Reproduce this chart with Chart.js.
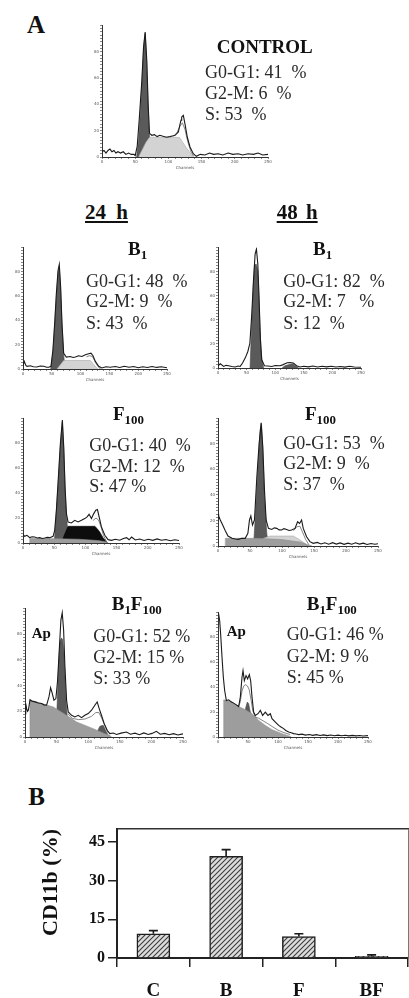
<!DOCTYPE html>
<html><head><meta charset="utf-8">
<script src="https://cdn.jsdelivr.net/npm/chart.js@4.4.0/dist/chart.umd.min.js"></script>
<style>
html,body{margin:0;padding:0;background:#fff;width:409px;height:998px;overflow:hidden;position:relative}
.t{position:absolute;font-family:"Liberation Serif","Times New Roman",serif;white-space:pre;line-height:1;color:#2a2a2a}
.b{font-weight:bold;color:#111}
.t sub{font-size:0.68em;vertical-align:-4px;line-height:0}
canvas{position:absolute}
</style></head><body>
<script>
// ---------- DATA (channel, count) ----------
const ctrlRaw=[[0,4],[3,5],[6,3],[9,5],[12,6],[15,4],[18,5],[21,3],[24,4],[28,3],[32,4],[36,2],[40,3],[44,2],[48,2],[50,1],[53,8],[56,28],[60,58],[62.5,83],[65,95],[67.5,73],[69.5,40],[71.5,18],[75,16.5],[79,17],[83,15.5],[87,16.5],[92,15.7],[97,15],[102,15.5],[106,16],[110,16.5],[113,18],[115,19],[117.5,25],[119,28],[120,30.4],[122.5,31.6],[125,25],[128.5,15],[132.5,7.6],[137.5,2.5],[142,0.5],[148,2],[155,1.5],[162,3],[168,2],[175,2.5],[182,1.5],[190,3],[197,2],[205,2.5],[212,1.5],[220,2.5],[228,2],[235,3],[242,1.5],[250,2]];
const ctrlFit=[[108,16],[113,18.5],[117,23],[121,26],[125,21],[129,12],[134,4],[138,0.5]];
const ctrlS=[[55,0],[60,5],[66,11],[71.5,15],[80,15],[95,15],[110,15],[117,14.7],[127,7],[137.5,0]];
const ctrlG1=[[52,0],[55,12],[58,35],[61,65],[63,85],[65,94],[67,75],[69,45],[71,20],[73,5],[75,0]];

const b24Raw=[[0,2.7],[2.3,6.3],[5,3],[7,2.2],[12.7,2.7],[18,1.8],[24,1.6],[30,2.5],[36,2.2],[41,1.5],[44.6,1.4],[48.6,2.2],[52,15.8],[55,37.5],[57.9,62],[60.8,81],[63,86],[65.4,67],[67.7,37.5],[70.6,13],[75.2,9.8],[82,10.3],[87,9.5],[90.9,9.8],[96.6,10.9],[102.4,10.3],[108.2,11.7],[114,12.5],[118,13],[121.5,10.9],[125.6,6.3],[131.4,2.2],[137,0.8],[144,1.8],[151.6,1.4],[160,2],[168,1.2],[176,2.2],[184,1.4],[192,2],[200,1],[208,1.8],[216,1.2],[224,2],[232,1.3],[240,1.8],[250,1]];
const b24Fit=[[110,10],[116,11],[121,10],[126,5],[132,1],[135,0]];
const b24S=[[59,0],[64,3],[70.6,7],[90,7],[116.9,7],[123,3.5],[129.6,0]];
const b24G1=[[48,0],[52,14],[55,36],[58,60],[61,79],[63,84],[65.4,64],[67.7,36],[70.6,12],[73,0]];

const b48Raw=[[0,1.9],[4,3.5],[9.9,1.3],[14,2.2],[18.6,1.9],[24,1.2],[30,0.8],[35,1.6],[38.8,1.3],[42.9,4.1],[47.5,8.2],[52.2,13.7],[55.7,20.5],[59.1,45],[62,72.6],[64.9,94.5],[67.2,98.6],[69.6,86.3],[71.9,56],[74.2,23.3],[76.5,6.8],[81.2,1.9],[87,1.6],[93.9,1.3],[100,2],[108.4,1.9],[113,2.6],[117.1,3.5],[121,4.3],[125.8,4.6],[131.6,4.1],[137.4,1.9],[143.2,0.8],[150,1.5],[158,0.9],[166,1.6],[174,0.8],[182,1.4],[190,0.9],[198,1.5],[206,0.8],[214,1.3],[222,0.7],[230,1.4],[238,0.8],[250,0.6]];
const b48G1=[[56,0],[59.1,39],[61.5,66],[63.8,85],[66.7,86.3],[69.6,80.8],[71.5,60],[73,37],[75,17],[76.5,6.8],[80,0]];
const b48G2=[[112,0],[117,1.8],[123,2.7],[130,3.5],[137,1.3],[141,0]];

const f24Raw=[[0,7],[2.7,5.4],[6.4,6.2],[10.7,4.3],[14.7,5],[18.7,4.8],[22.7,4],[26.8,4.3],[30.8,3.6],[34.8,4],[38.8,4.5],[42.8,4.3],[48.2,5.4],[50.8,10.2],[53.5,26.3],[56.7,53],[59.9,79.8],[63.1,98.6],[65.3,77],[67.4,45],[69.6,23.6],[72.2,16.9],[77.6,16.1],[82.9,18.2],[88.3,16.9],[93.6,18.2],[99,19.6],[102.7,20.9],[105.9,23],[109.7,19.6],[113.4,23.6],[116.6,26.3],[119.3,26.8],[122,20.9],[125.7,12.9],[131.1,6.2],[136.4,2.7],[141.8,2.1],[148,3],[155,2.2],[161,3.6],[166,4.3],[170,2.6],[174,4.8],[180,2.4],[187,3.2],[194,2],[201,3],[208,2.1],[215,3.3],[222,2.2],[229,2.8],[236,1.8],[243,2.6],[250,2]];
const f24Fit=[[112,18],[117,20],[121,18.5],[125,13],[129,6],[134,1]];
const f24Debris=[[10.7,0],[10.7,3.6],[50,3.5],[90,3],[120,2],[132,1],[137,0]];
const f24S=[[61.5,0],[66,6],[72.2,13.4],[90,13.4],[115,13.4],[119,11.5],[123,8.8],[128,4.5],[133.8,0.8],[136,0]];
const f24G1=[[50,0],[53,22],[56.7,50],[59.9,78],[63,97],[65.3,75],[67.4,44],[69.6,22],[72,8],[75,0]];

const f48Raw=[[0,25],[1,23.5],[3.6,20.4],[7.3,16.4],[11.4,12],[15.6,7.8],[21.8,6],[27,5.5],[32,5.2],[37,6],[42.5,6],[46.7,9.9],[49.2,20.4],[51.3,23.5],[53.9,16.4],[57,20.4],[60.7,54.3],[64.3,80.4],[67.4,96.6],[70,77.8],[72.6,43.9],[75.2,20.4],[78.8,13.8],[84,13],[88,14.2],[91.8,13.8],[95.5,12.6],[99.5,12.5],[103,13.6],[107.3,13],[111,12.2],[115,12.5],[120.3,13.8],[124.4,19],[127.5,17.7],[130.6,20.4],[133.2,13.8],[138.4,7.3],[143.6,3.4],[148.8,2.1],[155,2.8],[161,1.6],[167,2.5],[173,1.4],[179,2.6],[185,1.5],[191,2.4],[197,1.3],[203,2.2],[209,1.4],[215,2.5],[221,1.5],[227,2.2],[233,1.2],[239,2],[245,1.4],[250,1.8]];
const f48Fit=[[118,12],[123,15],[128,15.5],[132,11],[137,5],[142,1]];
const f48Debris=[[11.4,0],[11.4,6],[60,6],[100,5],[130,3],[140,1],[147,0]];
const f48S=[[68.4,0],[71,6],[81.4,7.8],[100,7.8],[117.7,7.8],[127,5],[135.8,2.1],[141,0]];
const f48G1=[[55.5,0],[58,20.4],[62.2,59.5],[65.8,90.8],[67.9,96],[70,75],[72.6,38.6],[76.2,10],[78.8,0]];

const bf24Raw=[[0,18.2],[1.2,26],[2.6,22],[4,20],[5.3,20.8],[7.9,29],[11,27.8],[15.8,27.3],[21,26.5],[26.3,26],[30,25],[34.2,24.7],[37.9,31.2],[40.5,38.4],[43.2,33.7],[45.8,28.6],[48.9,29.9],[51.6,44.1],[54.2,67.5],[56.8,90.9],[58.9,96.6],[61.1,83.1],[63.2,54.5],[65.8,28.6],[68.4,19.5],[73.7,16.9],[78.9,15.6],[84.2,16.9],[89.5,15.1],[94.7,16.9],[100,18.2],[105.3,20.8],[110.5,24.7],[114.2,27.3],[117.4,22.1],[121,16.9],[125.3,10.4],[130,5.2],[134.2,2.6],[139.5,3.1],[145,2],[152,3],[160.5,3.9],[167,2.2],[174,3],[181,1.8],[188,3.2],[195,2],[201,2.8],[207.9,4.4],[214,2.2],[221,2.8],[228,1.8],[235,2.6],[242,1.6],[250,2.4]];
const bf24Fit=[[68,18],[75,14.5],[85,13.5],[95,14],[105,16],[112,19],[117,19],[122,14],[127,8],[132,3]];
const bf24Debris=[[7.9,0],[7.9,29],[26,26],[44.7,23.4],[65.8,16.9],[81.6,11.7],[107.9,6.5],[126.3,2.6],[134.2,1.3],[136.8,0]];
const bf24G2=[[110,0],[114.2,3.9],[118.4,8.3],[123.7,9.1],[128.9,3.9],[131.6,1.3],[133,0]];
const bf24G1=[[49,0],[51.6,35],[53.5,60],[55.5,74],[57.5,77],[59.5,76],[61.5,66],[63.2,48],[65,28],[67,15],[69,0]];

const bf48Raw=[[0.5,99],[1.1,98.7],[2.8,93.3],[4.4,82.7],[6.7,64],[8.9,48],[11.1,37.3],[13.9,29.3],[17.8,29.9],[22,28.2],[26.1,27.2],[30,26],[34.4,24.5],[37.2,32],[40,48],[41.7,53.3],[43.9,45.3],[46.7,49.3],[49.4,46.7],[52.2,50.1],[54.4,45.3],[56.7,32],[59.4,20],[62.2,17.3],[66.7,18.7],[70.6,21.3],[74.4,17.3],[78.9,20],[83.3,17.3],[87.2,18.7],[90,14.7],[95.6,12],[101.1,9.3],[105,8],[109.4,6.7],[113,5.2],[117.8,4],[122,3.4],[126.1,2.7],[130,2.4],[134.4,1.9],[140,2.3],[146,1.5],[152,2],[158,1.3],[164,1.9],[170,1.2],[176,1.7],[182,1.1],[188,1.6],[194,1],[200,1.5],[206,1],[212,1.4],[218,0.9],[224,1.3],[230,0.9],[236,1.2],[242,0.8],[250,1.1]];
const bf48Fit=[[34.4,24.5],[37,28],[40,37],[43,41],[46,42],[49,41],[52,38],[55,30],[58,21],[62,16],[68,15],[75,13],[82,11],[90,8.5],[100,5.5],[110,3.5],[120,2]];
const bf48Debris=[[9.4,0],[9.4,29.9],[23.3,28],[34.4,24.5],[45.6,21.9],[56.7,18.7],[67.8,13.3],[78.9,9.3],[90,5.9],[106.7,2.7],[120.6,0.5],[122,0]];
const bf48G1=[[43.5,0],[44.4,18.7],[46.7,24.5],[48.9,28],[51.1,26.7],[53.3,21.3],[55.6,17.3],[56,0]];

const histXTicks=[0,50,100,150,200,250];
const histYLabels=[0,20,40,60,80];

const barLabels=['C','B','F','BF'];
const barValues=[9.4,39.4,8.3,0.6];
const barErrors=[1.2,2.6,1.1,0.6];
const barTicks=[0,15,30,45];

// ---------- LAYOUT / STYLE ----------
Chart.defaults.font.family='"DejaVu Sans", sans-serif';
const SERIF='"Liberation Serif","Times New Roman",serif';
const geo={
 ctrl:{x0:101.7,x1:268,top:25,axis:156.7},
 b24:{x0:22.7,x1:166.7,top:246.7,axis:369.3},
 b48:{x0:217.7,x1:361,top:246.7,axis:368.3},
 f24:{x0:23.3,x1:179,top:418.3,axis:542.7},
 f48:{x0:217.7,x1:378.3,top:418.3,axis:546},
 bf24:{x0:25,x1:183.3,top:608.3,axis:736.7},
 bf48:{x0:217.7,x1:368.3,top:611.7,axis:736.7}
};
const sty={
 raw:{borderColor:'#1a1a1a',borderWidth:1.1,fill:false},
 fit:{borderColor:'#666',borderWidth:0.8,fill:false},
 debris:{borderColor:'#8e8e8e',borderWidth:0.6,backgroundColor:'#9d9d9d',fill:'origin'},
 g1:{borderColor:'#484848',borderWidth:0.6,backgroundColor:'#5a5a5a',fill:'origin'},
 g2:{borderColor:'#484848',borderWidth:0.6,backgroundColor:'#5a5a5a',fill:'origin'},
 s:{borderColor:'#a8a8a8',borderWidth:0.6,backgroundColor:'#d3d3d3',fill:'origin'},
 sBlack:{borderColor:'#000',borderWidth:0.6,backgroundColor:'#0d0d0d',fill:'origin'}
};

function histogram(g,layers){
  const L=Math.round(g.x0),R=Math.round(g.x1),T=Math.round(g.top),B=Math.round(g.axis);
  const w=R-L+15,h=B-T+16;
  const cv=document.createElement('canvas');
  cv.width=w;cv.height=h;
  cv.style.left=(L-9)+'px';cv.style.top=(T-3)+'px';
  document.body.appendChild(cv);
  new Chart(cv,{
    type:'line',
    data:{datasets:layers.map(([arr,k])=>Object.assign({data:arr.map(p=>({x:p[0],y:p[1]})),pointRadius:0,tension:0},sty[k]))},
    options:{
      responsive:false,animation:false,events:[],
      layout:{padding:{top:3,right:6,left:0,bottom:0}},
      plugins:{legend:{display:false},tooltip:{enabled:false}},
      scales:{
        x:{type:'linear',min:0,max:250,
           ticks:{stepSize:10,autoSkip:false,maxRotation:0,minRotation:0,font:{size:4},color:'#555',padding:1,
                  callback:v=>histXTicks.includes(v)?String(v):''},
           grid:{drawOnChartArea:false,tickLength:2,color:'#555',lineWidth:0.7},
           border:{color:'#333',width:1},
           title:{display:true,text:'Channels',font:{size:4},color:'#555',padding:0},
           afterFit:s=>{s.height=13}},
        y:{min:0,max:100,
           ticks:{stepSize:2.5,autoSkip:false,font:{size:4},color:'#555',padding:1,
                  callback:v=>histYLabels.includes(v)?String(v):''},
           grid:{drawOnChartArea:false,tickLength:2,color:'#555',lineWidth:0.7},
           border:{color:'#333',width:1},
           afterFit:s=>{s.width=9}}
      }
    }
  });
}

histogram(geo.ctrl,[[ctrlRaw,'raw'],[ctrlFit,'fit'],[ctrlS,'s'],[ctrlG1,'g1']]);
histogram(geo.b24,[[b24Raw,'raw'],[b24Fit,'fit'],[b24S,'s'],[b24G1,'g1']]);
histogram(geo.b48,[[b48Raw,'raw'],[b48G2,'g2'],[b48G1,'g1']]);
histogram(geo.f24,[[f24Raw,'raw'],[f24Fit,'fit'],[f24Debris,'debris'],[f24S,'sBlack'],[f24G1,'g1']]);
histogram(geo.f48,[[f48Raw,'raw'],[f48Fit,'fit'],[f48Debris,'debris'],[f48S,'s'],[f48G1,'g1']]);
histogram(geo.bf24,[[bf24Raw,'raw'],[bf24Fit,'fit'],[bf24Debris,'debris'],[bf24G2,'g2'],[bf24G1,'g1']]);
histogram(geo.bf48,[[bf48Raw,'raw'],[bf48Fit,'fit'],[bf48Debris,'debris'],[bf48G1,'g1']]);

// ---------- TEXT ----------
function addText(html,x,base,size,bold,extra){
  const d=document.createElement('div');
  d.className='t'+(bold?' b':'');
  d.style.left=x+'px';
  d.style.top=(base-0.8375*size)+'px';
  d.style.fontSize=size+'px';
  if(extra)d.style.cssText+=extra;
  d.innerHTML=html;
  document.body.appendChild(d);
}
addText('A',27,33.3,25,true);
addText('CONTROL',216.7,53.3,19,true);
addText('G0-G1: 41  %',205,78,18);
addText('G2-M: 6  %',205,99.3,18);
addText('S: 53  %',205,120.5,18);

addText('24 h',85,220,21,true,'text-decoration:underline;text-decoration-thickness:2px;text-underline-offset:2px;word-spacing:5px;');
addText('48 h',276.7,220,21,true,'text-decoration:underline;text-decoration-thickness:2px;text-underline-offset:2px;word-spacing:3px;');

addText('B<sub>1</sub>',128,255,19,true);
addText('B<sub>1</sub>',313,255,19,true);
addText('G0-G1: 48  %',86,286.7,18);
addText('G2-M: 9  %',86,307.3,18);
addText('S: 43  %',86,329.3,18);
addText('G0-G1: 82  %',283.3,286.7,18);
addText('G2-M: 7   %',283.3,307.3,18);
addText('S: 12  %',283.3,329.3,18);

addText('F<sub>100</sub>',113,420,19,true);
addText('F<sub>100</sub>',305,420,19,true);
addText('G0-G1: 40  %',89.3,450.7,18);
addText('G2-M: 12  %',89.3,471.7,18);
addText('S: 47 %',89.3,492.3,18);
addText('G0-G1: 53  %',283.3,449.3,18);
addText('G2-M: 9  %',283.3,469.3,18);
addText('S: 37  %',283.3,490,18);

addText('B<sub>1</sub>F<sub>100</sub>',111.7,610,19,true);
addText('B<sub>1</sub>F<sub>100</sub>',306.7,610,19,true);
addText('Ap',31.7,638.3,15,true);
addText('Ap',226.7,636.7,15,true);
addText('G0-G1: 52 %',93.3,641.7,18);
addText('G2-M: 15 %',93.3,663.3,18);
addText('S: 33 %',93.3,684,18);
addText('G0-G1: 46 %',286.7,640,18);
addText('G2-M: 9 %',286.7,661.7,18);
addText('S: 45 %',286.7,682.7,18);

addText('B',28.3,805,25,true);

// ---------- BAR CHART ----------
const bc=document.createElement('canvas');
bc.width=409;bc.height=183;bc.style.left='0px';bc.style.top='815px';
document.body.appendChild(bc);
const pc=document.createElement('canvas');pc.width=5;pc.height=5;
const pg=pc.getContext('2d');
pg.fillStyle='#dcdcdc';pg.fillRect(0,0,5,5);
pg.strokeStyle='#3c3c3c';pg.lineWidth=1.1;
pg.beginPath();pg.moveTo(0,5);pg.lineTo(5,0);pg.moveTo(-1,1);pg.lineTo(1,-1);pg.moveTo(4,6);pg.lineTo(6,4);pg.stroke();
const hatch=bc.getContext('2d').createPattern(pc,'repeat');

const errPlugin={id:'err',afterDatasetsDraw(chart){
  const ctx=chart.ctx,meta=chart.getDatasetMeta(0),ys=chart.scales.y;
  ctx.save();ctx.strokeStyle='#1a1a1a';ctx.lineWidth=1.6;
  meta.data.forEach((bar,i)=>{
    const top=ys.getPixelForValue(barValues[i]+barErrors[i]);
    ctx.beginPath();ctx.moveTo(bar.x,bar.y);ctx.lineTo(bar.x,top);
    ctx.moveTo(bar.x-4.5,top);ctx.lineTo(bar.x+4.5,top);ctx.stroke();
  });
  ctx.restore();
}};

new Chart(bc,{
  type:'bar',
  data:{labels:barLabels,datasets:[{data:barValues,backgroundColor:hatch,borderColor:'#1e1e1e',borderWidth:1.5,barThickness:33,xAxisID:'x',yAxisID:'y'}]},
  options:{
    responsive:false,animation:false,events:[],
    layout:{padding:{top:14,right:1,left:0,bottom:0}},
    plugins:{legend:{display:false},tooltip:{enabled:false}},
    scales:{
      x:{position:'bottom',
         grid:{offset:true,drawOnChartArea:false,tickLength:9,color:'#222',lineWidth:1.5},
         border:{color:'#222',width:2},
         ticks:{font:{family:SERIF,size:19,weight:'bold'},color:'#111',padding:13,maxRotation:0},
         afterFit:s=>{s.height=40}},
      x2:{type:'category',position:'top',ticks:{display:false},
         grid:{drawOnChartArea:false,drawTicks:false},border:{color:'#333',width:1.5},
         afterFit:s=>{s.height=0}},
      y:{position:'left',min:0,max:50,
         afterBuildTicks:s=>{s.ticks=barTicks.map(v=>({value:v}))},
         ticks:{font:{family:SERIF,size:16,weight:'bold'},color:'#111',padding:3},
         grid:{drawOnChartArea:false,tickLength:9,color:'#222',lineWidth:1.5},
         border:{color:'#222',width:2},
         title:{display:true,text:'CD11b (%)',align:'end',font:{family:SERIF,size:22,weight:'bold'},color:'#111',padding:{top:38,bottom:0}},
         afterFit:s=>{s.width=117}},
      y2:{type:'linear',position:'right',min:0,max:50,ticks:{display:false},
         grid:{drawOnChartArea:false,drawTicks:false},border:{color:'#777',width:1},
         afterFit:s=>{s.width=0}}
    }
  },
  plugins:[errPlugin]
});
</script>
</body></html>
